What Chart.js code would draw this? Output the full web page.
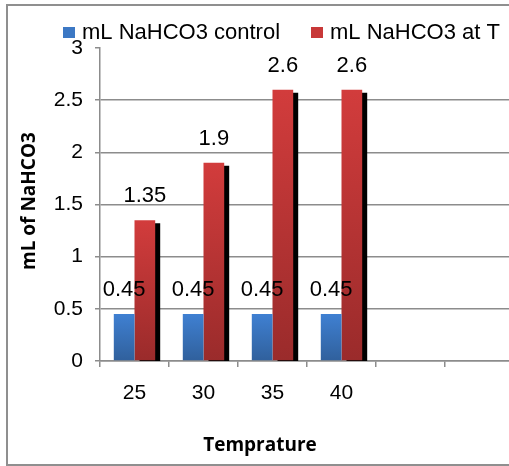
<!DOCTYPE html>
<html>
<head>
<meta charset="utf-8">
<script src="https://cdn.jsdelivr.net/npm/chart.js@4.4.0/dist/chart.umd.min.js"></script>
<style>
  html, body { margin: 0; padding: 0; background: #fff; overflow: hidden; }
  #wrap { width: 530px; height: 466px; }
</style>
</head>
<body>
<div id="wrap"><canvas id="myChart" width="530" height="466"></canvas></div>
<script>
// data
const categories = ["25", "30", "35", "40", "", ""];
const controlValues = [0.45, 0.45, 0.45, 0.45, null, null];
const atTValues = [1.35, 1.9, 2.6, 2.6, null, null];
const seriesNames = ["mL NaHCO3 control", "mL NaHCO3 at T"];
const yMin = 0, yMax = 3, yStep = 0.5;
const xTitle = "Temprature";
const yTitle = "mL of NaHCO3";

const labelFont = '22px "Liberation Sans", Arial, sans-serif';
const titleFont = 'bold 19px "Open Sans", sans-serif';
const lineGray = '#8c8c8c';

// vertical gradient per bar, light at the top
function barGradient(top, bottom) {
  return function (context) {
    const chart = context.chart;
    const { ctx, chartArea, scales } = chart;
    if (!chartArea || context.raw == null) return top;
    const y0 = scales.y.getPixelForValue(0);
    const y1 = scales.y.getPixelForValue(context.raw);
    const g = ctx.createLinearGradient(0, y1, 0, y0);
    g.addColorStop(0, top);
    g.addColorStop(1, bottom);
    return g;
  };
}

const barShadow = {
  id: 'barShadow',
  beforeDatasetDraw(chart, args) {
    if (args.index !== 1) return;
    const ctx = chart.ctx;
    ctx.save();
    ctx.shadowColor = '#000';
    ctx.shadowOffsetX = 5;
    ctx.shadowOffsetY = 3;
    ctx.shadowBlur = 0;
  },
  afterDatasetDraw(chart, args) {
    if (args.index !== 1) return;
    chart.ctx.restore();
  }
};

const valueLabels = {
  id: 'valueLabels',
  afterDatasetsDraw(chart) {
    const ctx = chart.ctx;
    ctx.save();
    ctx.font = labelFont;
    ctx.fillStyle = '#000';
    ctx.textAlign = 'center';
    ctx.textBaseline = 'middle';
    chart.data.datasets.forEach((ds, i) => {
      chart.getDatasetMeta(i).data.forEach((bar, j) => {
        const v = ds.data[j];
        if (v == null) return;
        ctx.fillText(String(v), bar.x, bar.y - 24);
      });
    });
    ctx.restore();
  }
};

const legendColors = ['#3c78c4', '#c83838'];
const legendStarts = [63, 311];

const decorations = {
  id: 'decorations',
  beforeDraw(chart) {
    const ctx = chart.ctx;
    ctx.save();
    ctx.fillStyle = '#fff';
    ctx.fillRect(0, 0, chart.width, chart.height);
    ctx.strokeStyle = '#8f8f8f';
    ctx.lineWidth = 2;
    ctx.strokeRect(7, 5, chart.width + 20, 460);
    ctx.restore();
  },
  afterDraw(chart) {
    const ctx = chart.ctx;
    ctx.save();
    // legend
    ctx.font = labelFont;
    ctx.textBaseline = 'middle';
    ctx.textAlign = 'left';
    chart.data.datasets.forEach((ds, i) => {
      const x = legendStarts[i];
      ctx.fillStyle = legendColors[i];
      ctx.fillRect(x, 27, 12, 11);
      ctx.fillStyle = '#000';
      ctx.fillText(ds.label, x + 19, 33);
    });
    // axis titles
    ctx.font = titleFont;
    ctx.textAlign = 'center';
    ctx.fillText(xTitle, 260, 446);
    ctx.translate(30, 201);
    ctx.rotate(-Math.PI / 2);
    ctx.fillText(yTitle, 0, 0);
    ctx.restore();
  }
};

const ctx = document.getElementById('myChart');

const myChart = new Chart(ctx, {
  type: 'bar',
  plugins: [decorations, barShadow, valueLabels],
  data: {
    labels: categories,
    datasets: [
      {
        label: seriesNames[0],
        data: controlValues,
        backgroundColor: barGradient('#3f80d2', '#30609c'),
        borderWidth: 0,
        categoryPercentage: 0.6,
        barPercentage: 1,
      },
      {
        label: seriesNames[1],
        data: atTValues,
        backgroundColor: barGradient('#d23c3c', '#9a2b2b'),
        borderWidth: 0,
        categoryPercentage: 0.6,
        barPercentage: 1,
      },
    ],
  },
  options: {
    responsive: false,
    animation: false,
    layout: {
      padding: { top: 48, left: 0, right: 16, bottom: 0 },
    },
    plugins: {
      legend: { display: false },
      tooltip: { enabled: false },
    },
    scales: {
      x: {
        afterFit: (s) => { s.height = 105; },
        grid: {
          drawOnChartArea: false,
          tickLength: 6,
          color: lineGray,
          lineWidth: 1.5,
          offset: true,
        },
        border: { color: lineGray, width: 1.5 },
        ticks: {
          color: '#000',
          padding: 14,
          font: { family: '"Liberation Sans", Arial, sans-serif', size: 21 },
        },
      },
      y: {
        min: yMin,
        max: yMax,
        afterFit: (s) => { s.width = 100; },
        grid: {
          color: (c) => (c.tick && c.tick.value === yMax ? 'rgba(0,0,0,0)' : lineGray),
          tickColor: lineGray,
          tickLength: 5,
          lineWidth: 1.5,
        },
        border: { color: lineGray, width: 1.5 },
        ticks: {
          stepSize: yStep,
          color: '#000',
          padding: 12,
          font: { family: '"Liberation Sans", Arial, sans-serif', size: 21 },
          callback: (v) => String(v),
        },
      },
    },
  },
});
</script>
</body>
</html>
